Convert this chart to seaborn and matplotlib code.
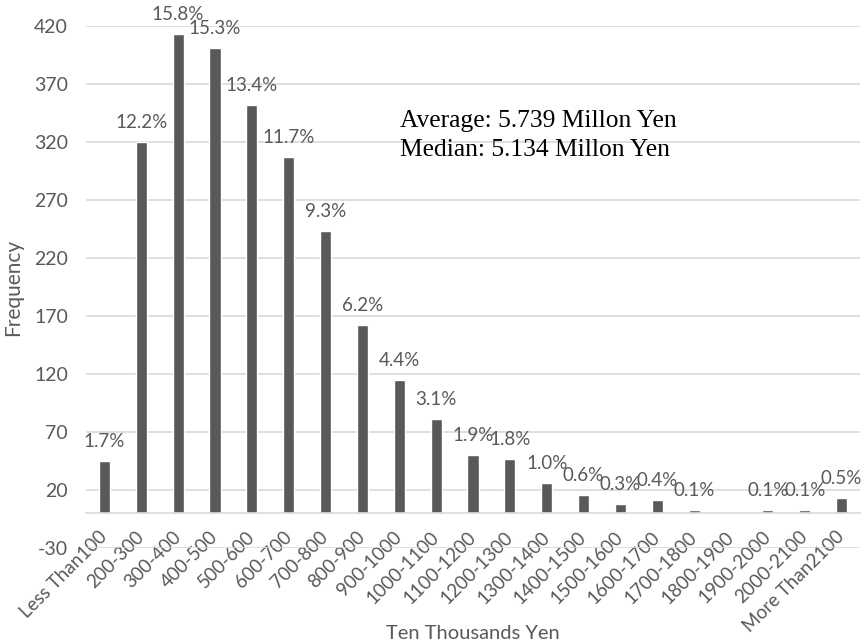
import seaborn as sns
import matplotlib.pyplot as plt

# bins (ten thousands yen) and observed frequencies
categories = ['Less Than100', '200-300', '300-400', '400-500', '500-600', '600-700',
              '700-800', '800-900', '900-1000', '1000-1100', '1100-1200', '1200-1300',
              '1300-1400', '1400-1500', '1500-1600', '1600-1700', '1700-1800',
              '1800-1900', '1900-2000', '2000-2100', 'More Than2100']
frequency = [45, 320, 413, 401, 352, 307, 243, 162, 115, 81, 50, 47,
             26, 16, 8, 11, 3, 0, 3, 3, 13]
share = ['1.7%', '12.2%', '15.8%', '15.3%', '13.4%', '11.7%', '9.3%', '6.2%', '4.4%',
         '3.1%', '1.9%', '1.8%', '1.0%', '0.6%', '0.3%', '0.4%', '0.1%', '',
         '0.1%', '0.1%', '0.5%']
summary = ['Average: 5.739 Millon Yen', 'Median: 5.134 Millon Yen']
yticks = list(range(-30, 421, 50))

sns.set_style('white')
plt.rcParams['font.family'] = ['Lato', 'DejaVu Sans']
plt.rcParams['axes.unicode_minus'] = False

GRIS = '#595959'
fig = plt.figure(figsize=(8.64, 6.43), dpi=100)
ax = fig.add_axes([0.0995, 0.1477, 0.8959, 0.8119])

sns.barplot(ax=ax, x=categories, y=frequency, color=GRIS, width=0.3, saturation=1)

ax.set_ylim(-30, 420)
ax.set_xlim(-0.5, len(categories) - 0.5)
ax.set_yticks(yticks)
ax.yaxis.grid(True, color='#d9d9d9', linewidth=1.2)
ax.set_axisbelow(True)
for lado in ['left', 'right', 'top']:
    ax.spines[lado].set_visible(False)
ax.spines['bottom'].set_position(('data', 0))
ax.spines['bottom'].set_color('#d9d9d9')
ax.spines['bottom'].set_linewidth(1.2)

ax.tick_params(axis='y', length=0, pad=13, labelsize=14, labelcolor=GRIS)
ax.tick_params(axis='x', length=0, pad=15, labelsize=13.5, labelcolor=GRIS)
plt.setp(ax.get_xticklabels(), rotation=45, ha='right', va='center', rotation_mode='anchor')

# rótulos de porcentagem
for i, (v, txt) in enumerate(zip(frequency, share)):
    if txt:
        ax.annotate(txt, (i, v), xytext=(0, 8), textcoords='offset points',
                    ha='center', va='bottom', fontsize=13.5, color=GRIS)

ax.set_ylabel('Frequency', fontsize=15, color=GRIS)
ax.yaxis.set_label_coords(-0.081, 0.5)
ax.set_xlabel('Ten Thousands Yen', fontsize=14.5, color=GRIS)
ax.xaxis.set_label_coords(0.5, -0.147)

ax.text(0.4057, 0.8065, summary[0], transform=ax.transAxes, family='Liberation Serif',
        fontsize=18.4, color='black', va='baseline')
ax.text(0.4057, 0.7510, summary[1], transform=ax.transAxes, family='Liberation Serif',
        fontsize=18.4, color='black', va='baseline')

plt.savefig('out.png', dpi=100)
